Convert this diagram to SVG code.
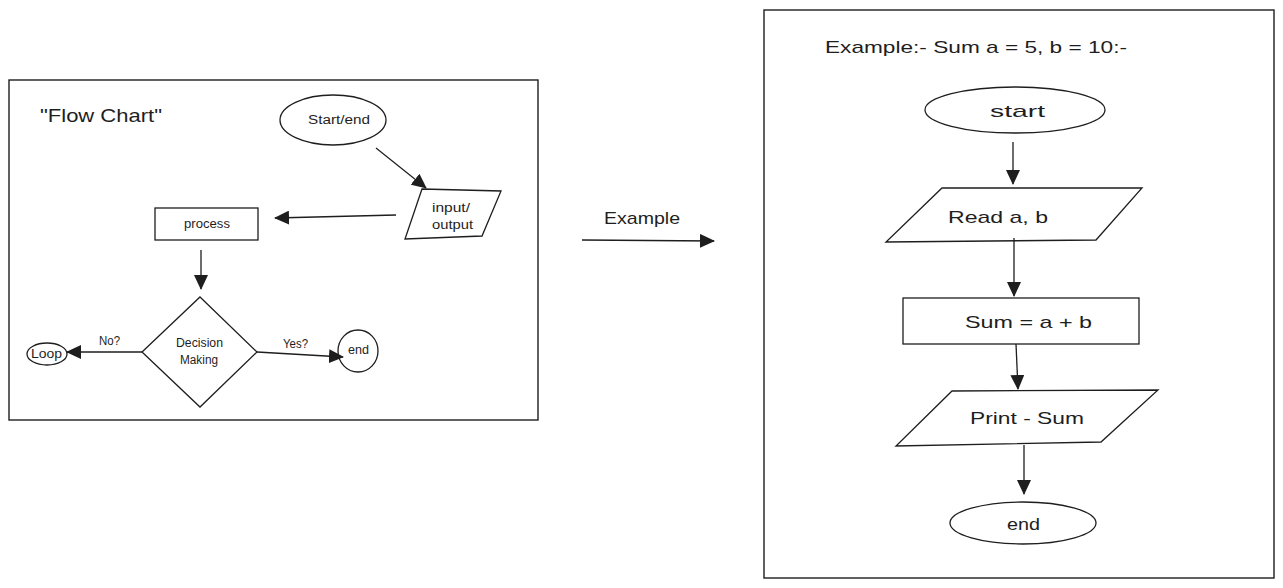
<svg xmlns="http://www.w3.org/2000/svg" width="1283" height="588" viewBox="0 0 1283 588">
<style>
.s{fill:#fff;stroke:#1e1e1e;stroke-width:1.3}
.f{fill:none;stroke:#1e1e1e;stroke-width:1.4}
.c{fill:none;stroke:#1e1e1e;stroke-width:1.3}
text{font-family:"Liberation Sans","DejaVu Sans",sans-serif;fill:#1e1e1e}
.t{font-size:12px}
.m{font-size:17px}
</style>
<defs>
<marker id="ah" viewBox="0 0 15 14" refX="14" refY="7" markerWidth="15" markerHeight="14" markerUnits="userSpaceOnUse" orient="auto">
<path d="M0,0 L15,7 L0,14 Z" fill="#1e1e1e"/>
</marker>
</defs>
<rect width="1283" height="588" fill="#fff"/>
<g id="frame-left"><rect class="f" x="9" y="80" width="529" height="340"/></g>
<g id="frame-right"><rect class="f" x="764" y="10" width="510" height="568"/></g>
<g id="title-left"><text x="40" y="122" font-size="19" textLength="122" lengthAdjust="spacingAndGlyphs">"Flow Chart"</text></g>
<g id="startend"><ellipse class="s" cx="333" cy="120" rx="53" ry="25"/><text class="t" x="308" y="124" textLength="62" lengthAdjust="spacingAndGlyphs">Start/end</text></g>
<g id="io"><polygon class="s" points="422,189 501,191 482,236 405,239"/><text class="t" x="432" y="212" textLength="38" lengthAdjust="spacingAndGlyphs">input/</text><text class="t" x="432" y="229" textLength="41" lengthAdjust="spacingAndGlyphs">output</text></g>
<g id="process"><rect class="s" x="155" y="208" width="103" height="32"/><text class="t" x="184" y="228" textLength="46" lengthAdjust="spacingAndGlyphs">process</text></g>
<g id="decision"><polygon class="s" points="200,297 257,352 200,407 142,352"/><text class="t" x="176" y="347" textLength="47" lengthAdjust="spacingAndGlyphs">Decision</text><text class="t" x="180" y="364" textLength="38" lengthAdjust="spacingAndGlyphs">Making</text></g>
<g id="loop"><ellipse class="s" cx="47" cy="354" rx="20" ry="11"/><text class="t" x="31" y="358" textLength="31" lengthAdjust="spacingAndGlyphs">Loop</text></g>
<g id="end-left"><ellipse class="s" cx="358" cy="351" rx="20" ry="21"/><text class="t" x="348" y="354" textLength="21" lengthAdjust="spacingAndGlyphs">end</text></g>
<g id="title-right"><text class="m" x="825" y="53" textLength="302" lengthAdjust="spacingAndGlyphs">Example:- Sum a = 5, b = 10:-</text></g>
<g id="start"><ellipse class="s" cx="1015" cy="110" rx="90" ry="23"/><text class="m" x="990" y="117" textLength="55" lengthAdjust="spacingAndGlyphs">start</text></g>
<g id="read"><polygon class="s" points="942,188 1142,188 1096,240 886,242"/><text class="m" x="948" y="223" textLength="100" lengthAdjust="spacingAndGlyphs">Read a, b</text></g>
<g id="sum"><rect class="s" x="903" y="298" width="236" height="46"/><text class="m" x="965" y="328" textLength="127" lengthAdjust="spacingAndGlyphs">Sum = a + b</text></g>
<g id="print"><polygon class="s" points="952,391 1158,390 1101,442 896,446"/><text class="m" x="970" y="424" textLength="114" lengthAdjust="spacingAndGlyphs">Print - Sum</text></g>
<g id="end-right"><ellipse class="s" cx="1023" cy="523" rx="73" ry="21"/><text class="m" x="1007" y="530" textLength="33" lengthAdjust="spacingAndGlyphs">end</text></g>
<g id="example-label"><text class="m" x="604" y="224" textLength="76" lengthAdjust="spacingAndGlyphs">Example</text></g>
<g id="connectors">
<line class="c" x1="376" y1="148" x2="426" y2="188" marker-end="url(#ah)"/>
<line class="c" x1="396" y1="215" x2="275" y2="218" marker-end="url(#ah)"/>
<line class="c" x1="201" y1="250" x2="201" y2="289" marker-end="url(#ah)"/>
<line class="c" x1="142" y1="352" x2="67" y2="352" marker-end="url(#ah)"/>
<line class="c" x1="257" y1="352" x2="343" y2="357" marker-end="url(#ah)"/>
<line class="c" x1="582" y1="240" x2="714" y2="241" marker-end="url(#ah)"/>
<line class="c" x1="1013" y1="142" x2="1013" y2="184" marker-end="url(#ah)"/>
<line class="c" x1="1014" y1="238" x2="1014" y2="296" marker-end="url(#ah)"/>
<line class="c" x1="1016" y1="344" x2="1018" y2="389" marker-end="url(#ah)"/>
<line class="c" x1="1024" y1="445" x2="1024" y2="494" marker-end="url(#ah)"/>
</g>
<g id="edge-labels">
<text class="t" x="99" y="345" textLength="21" lengthAdjust="spacingAndGlyphs">No?</text>
<text class="t" x="283" y="348" textLength="25" lengthAdjust="spacingAndGlyphs">Yes?</text>
</g>
</svg>
